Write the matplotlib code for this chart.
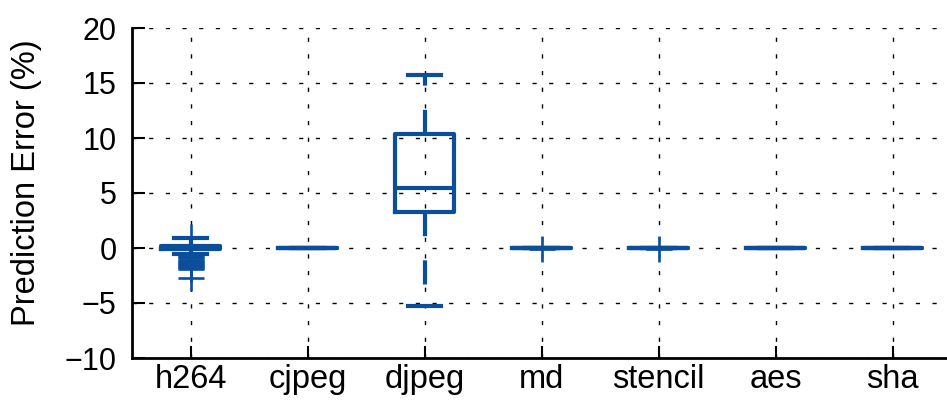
import matplotlib
matplotlib.use('Agg')
import matplotlib.pyplot as plt

plt.rcParams['font.family'] = ['Liberation Sans', 'DejaVu Sans']

# benchmark names
benchmarks = ['h264', 'cjpeg', 'djpeg', 'md', 'stencil', 'aes', 'sha']

# box statistics (prediction error in %)
medians = [0.05, 0.0, 5.5, 0.0, 0.0, 0.0, 0.0]
q1s = [-0.05, 0.0, 3.3, 0.0, 0.0, 0.0, 0.0]
q3s = [0.2, 0.0, 10.4, 0.0, 0.0, 0.0, 0.0]
whis_lo = [-0.5, 0.0, -5.3, 0.0, 0.0, 0.0, 0.0]
whis_hi = [0.9, 0.0, 15.7, 0.0, 0.0, 0.0, 0.0]
outliers = [
    [1.0, -0.75, -0.85, -0.95, -1.05, -1.15, -1.25, -1.35, -1.45,
     -1.55, -1.65, -1.75, -1.85, -1.95, -2.75],
    [],
    [],
    [-0.05],
    [-0.05],
    [],
    [],
]

blue = '#0b4f9c'

stats = []
for i, name in enumerate(benchmarks):
    stats.append({
        'label': name,
        'med': medians[i],
        'q1': q1s[i],
        'q3': q3s[i],
        'whislo': whis_lo[i],
        'whishi': whis_hi[i],
        'fliers': outliers[i],
    })

fig = plt.figure(figsize=(9.47, 4.0), dpi=100)
ax = fig.add_axes([132 / 947, 42 / 400, 819 / 947, 330 / 400])

lw = 3.0
ax.bxp(
    stats,
    positions=range(1, len(benchmarks) + 1),
    widths=0.5,
    capwidths=0.28,
    boxprops=dict(color=blue, linewidth=lw),
    medianprops=dict(color=blue, linewidth=lw),
    whiskerprops=dict(color=blue, linewidth=lw, linestyle=(0, (5.8, 5.8))),
    capprops=dict(color=blue, linewidth=lw),
    flierprops=dict(marker='+', markersize=19, markeredgewidth=1.9,
                    markeredgecolor=blue, linestyle='none'),
)

ax.set_xlim(0.5, 7.5)
ax.set_ylim(-10, 20)
ax.set_yticks([-10, -5, 0, 5, 10, 15, 20])
ax.set_xticks(range(1, len(benchmarks) + 1))
ax.set_xticklabels(benchmarks)

ax.set_axisbelow(True)
ax.grid(True, color='black', linestyle=(0, (3, 9)), linewidth=1.0)

for side in ['top', 'right']:
    ax.spines[side].set_visible(False)
for side in ['left', 'bottom']:
    ax.spines[side].set_linewidth(2.0)

ax.tick_params(axis='both', direction='in', length=9, width=1.5)
ax.tick_params(axis='y', pad=11, labelsize=22)
ax.tick_params(axis='x', pad=4, labelsize=23.5)

ax.set_ylabel('Prediction Error (%)', fontsize=23.5)
ax.yaxis.set_label_coords(-0.11, 0.53)

fig.savefig('out.png', dpi=100)
